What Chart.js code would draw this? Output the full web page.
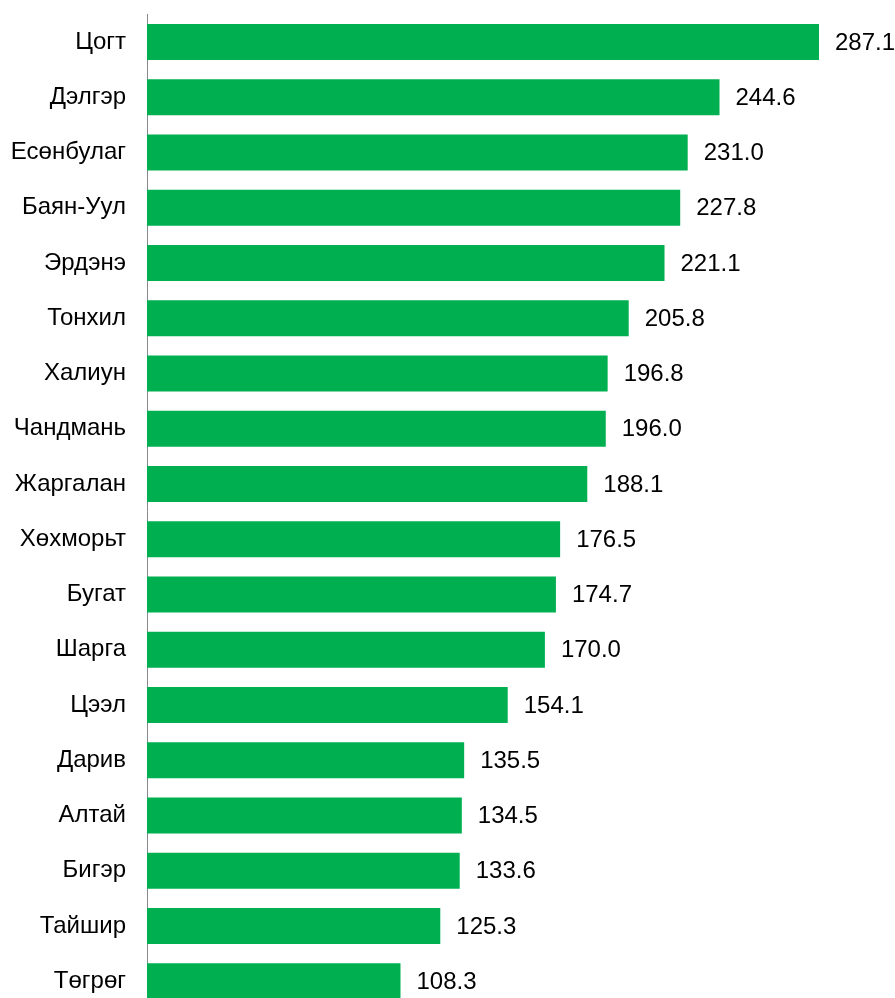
<!DOCTYPE html>
<html>
<head>
<meta charset="utf-8">
<script src="https://cdn.jsdelivr.net/npm/chart.js@4/dist/chart.umd.min.js"></script>
<style>
  html, body { margin: 0; padding: 0; background: #fff; overflow: hidden; }
  #wrap { width: 895px; height: 1010px; }
</style>
</head>
<body>
<div id="wrap"><canvas id="c" width="895" height="1010"></canvas></div>
<script>
const categories = ["Цогт","Дэлгэр","Есөнбулаг","Баян-Уул","Эрдэнэ","Тонхил","Халиун","Чандмань","Жаргалан","Хөхморьт","Бугат","Шарга","Цээл","Дарив","Алтай","Бигэр","Тайшир","Төгрөг"];
const values = [287.1,244.6,231.0,227.8,221.1,205.8,196.8,196.0,188.1,176.5,174.7,170.0,154.1,135.5,134.5,133.6,125.3,108.3];

const FONT = "'Liberation Sans', Arial, sans-serif";

const valueLabels = {
  id: 'valueLabels',
  afterDatasetsDraw(chart) {
    const ctx = chart.ctx;
    const meta = chart.getDatasetMeta(0);
    ctx.save();
    ctx.font = "24px " + FONT;
    ctx.fillStyle = '#000';
    ctx.textAlign = 'left';
    ctx.textBaseline = 'middle';
    meta.data.forEach((bar, i) => {
      ctx.fillText(values[i].toFixed(1), bar.x + 16, bar.y + 1);
    });
    ctx.restore();
  }
};

new Chart(document.getElementById('c'), {
  type: 'bar',
  data: {
    labels: categories,
    datasets: [{
      data: values,
      backgroundColor: '#00B050',
      borderWidth: 0,
      barPercentage: 0.652,
      categoryPercentage: 1.0
    }]
  },
  options: {
    indexAxis: 'y',
    responsive: false,
    animation: false,
    devicePixelRatio: 1,
    layout: { padding: { top: 14.4, right: 45.8, bottom: 1.2, left: 0 } },
    plugins: { legend: { display: false }, tooltip: { enabled: false } },
    scales: {
      x: {
        display: false,
        min: 0,
        max: 300
      },
      y: {
        afterFit(scale) {
          scale.width = 147;
          scale.paddingTop = 0;
          scale.paddingBottom = 0;
        },
        grid: { display: false, drawTicks: false },
        border: { display: true, color: '#898989', width: 1 },
        ticks: {
          padding: 21,
          color: '#000',
          font: { family: FONT, size: 24 }
        }
      }
    }
  },
  plugins: [valueLabels]
});
</script>
</body>
</html>
